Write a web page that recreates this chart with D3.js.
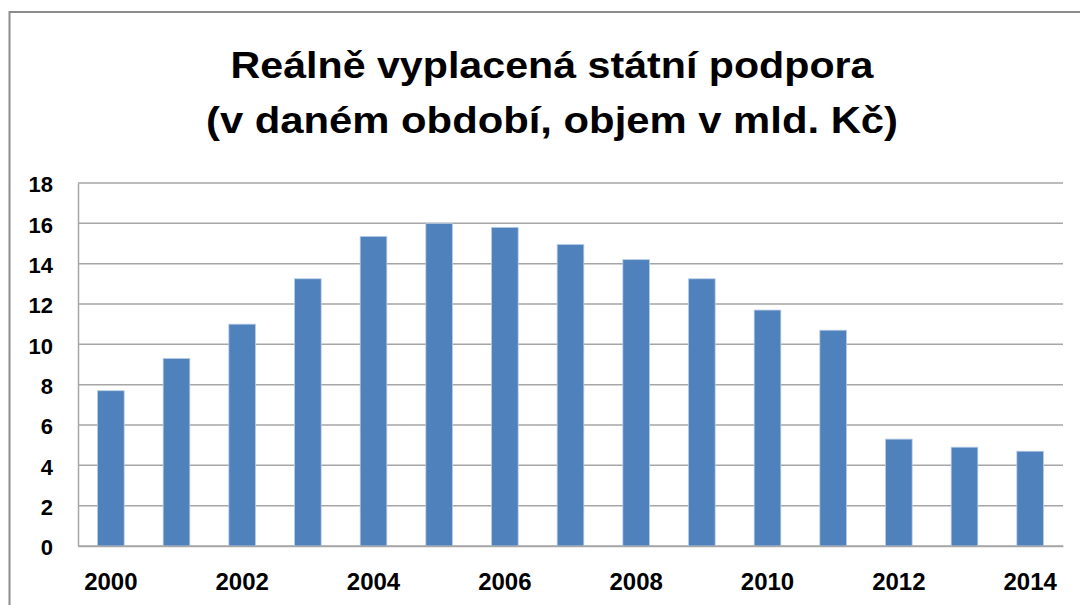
<!DOCTYPE html>
<html>
<head>
<meta charset="utf-8">
<script src="https://cdn.jsdelivr.net/npm/d3@7"></script>
<style>
  body { margin: 0; background: #fff; }
  text { font-family: "Liberation Sans", Arial, sans-serif; font-weight: bold; fill: #000; }
</style>
</head>
<body>
<div class="chart"></div>
<script>
var svgWidth = 1080;
var svgHeight = 605;

var margin = { top: 183, right: 17, bottom: 59, left: 78 };
var width = svgWidth - margin.left - margin.right;
var height = svgHeight - margin.top - margin.bottom;

// data
var years = ["2000", "2001", "2002", "2003", "2004", "2005", "2006", "2007",
             "2008", "2009", "2010", "2011", "2012", "2013", "2014"];
var values = [7.7, 9.3, 11.0, 13.25, 15.35, 16.0, 15.8, 14.95,
              14.2, 13.25, 11.7, 10.7, 5.3, 4.9, 4.7];
var yTicks = [0, 2, 4, 6, 8, 10, 12, 14, 16, 18];
var xTickLabels = ["2000", "2002", "2004", "2006", "2008", "2010", "2012", "2014"];
var titleLines = ["Reálně vyplacená státní podpora", "(v daném období, objem v mld. Kč)"];

var svg = d3.select(".chart")
  .append("svg")
  .attr("width", svgWidth)
  .attr("height", svgHeight);

// chart-area border (cropped at the right and bottom)
svg.append("rect")
  .attr("x", 9.5)
  .attr("y", 12)
  .attr("width", 1200)
  .attr("height", 800)
  .attr("fill", "none")
  .attr("stroke", "#8c8c8c")
  .attr("stroke-width", 2);

// title, stretched a bit like the original
var titleY = [78, 133];
var titleW = [643, 692];
svg.selectAll(".title")
  .data(titleLines)
  .enter()
  .append("text")
  .attr("class", "title")
  .attr("x", 552)
  .attr("y", (d, i) => titleY[i])
  .attr("text-anchor", "middle")
  .attr("font-size", 36)
  .attr("textLength", (d, i) => titleW[i])
  .attr("lengthAdjust", "spacingAndGlyphs")
  .text(d => d);

var chartGroup = svg.append("g")
  .attr("transform", `translate(${margin.left}, ${margin.top})`);

var xScale = d3.scaleBand()
  .domain(years)
  .range([0, width])
  .paddingInner(0.594)
  .paddingOuter(0.297);

var yScale = d3.scaleLinear()
  .domain([0, 18])
  .range([height, 0]);

// gridlines
chartGroup.append("g")
  .selectAll("line")
  .data(yTicks)
  .enter()
  .append("line")
  .attr("x1", 0)
  .attr("x2", width)
  .attr("y1", d => yScale(d))
  .attr("y2", d => yScale(d))
  .attr("stroke", "#a6a6a6")
  .attr("stroke-width", 1.5);

// y axis
var yAxis = chartGroup.append("g")
  .call(d3.axisLeft(yScale).tickValues(yTicks).tickSize(0).tickPadding(25));
yAxis.select(".domain").attr("stroke", "#a6a6a6").attr("stroke-width", 1.5);
yAxis.selectAll("text")
  .attr("font-size", 22)
  .attr("font-family", "Liberation Sans, Arial, sans-serif")
  .attr("font-weight", "bold")
  .attr("dy", "0.4em");

// bars
chartGroup.selectAll(".bar")
  .data(values)
  .enter()
  .append("rect")
  .attr("class", "bar")
  .attr("x", (d, i) => xScale(years[i]))
  .attr("y", d => yScale(d))
  .attr("width", xScale.bandwidth())
  .attr("height", d => height - yScale(d))
  .attr("fill", "#4f81bd")
  .attr("stroke", "#b9cde5")
  .attr("stroke-width", 0.8);

// x axis
var xAxis = chartGroup.append("g")
  .attr("transform", `translate(0, ${height})`)
  .call(d3.axisBottom(xScale).tickValues(xTickLabels).tickSize(0).tickPadding(27));
xAxis.select(".domain").attr("stroke", "#a6a6a6").attr("stroke-width", 1.5);
xAxis.selectAll("text")
  .attr("font-size", 24)
  .attr("font-family", "Liberation Sans, Arial, sans-serif")
  .attr("font-weight", "bold");
</script>
</body>
</html>
